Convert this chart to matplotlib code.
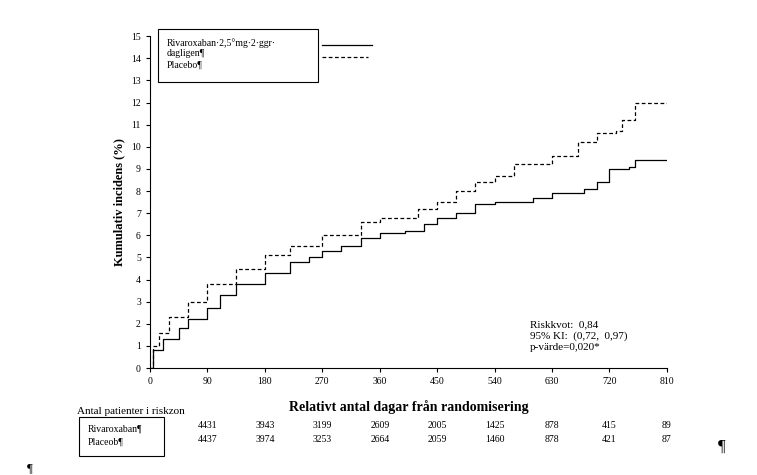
import matplotlib.pyplot as plt
from matplotlib.patches import Rectangle

plt.rcParams['font.family'] = ['Liberation Serif', 'DejaVu Serif']

riva_days = [0, 5, 20, 45, 60, 90, 110, 135, 180, 220, 250, 270, 300, 330, 360, 400, 430, 450, 480, 510,
             540, 600, 630, 680, 700, 720, 750, 760, 810]
riva_inc = [0, 0.8, 1.3, 1.8, 2.2, 2.7, 3.3, 3.8, 4.3, 4.8, 5.0, 5.3, 5.5, 5.9, 6.1, 6.2, 6.5, 6.8, 7.0, 7.4,
            7.5, 7.7, 7.9, 8.1, 8.4, 9.0, 9.1, 9.4, 9.4]
plac_days = [0, 5, 15, 30, 60, 90, 135, 180, 220, 270, 330, 360, 420, 450, 480, 510, 540, 570, 630, 670,
             700, 730, 740, 760, 810]
plac_inc = [0, 1.0, 1.6, 2.3, 3.0, 3.8, 4.5, 5.1, 5.5, 6.0, 6.6, 6.8, 7.2, 7.5, 8.0, 8.4, 8.7, 9.2, 9.6, 10.2,
            10.6, 10.7, 11.2, 12.0, 12.0]

risk_days = [90, 180, 270, 360, 450, 540, 630, 720, 810]
risk_riva = [4431, 3943, 3199, 2609, 2005, 1425, 878, 415, 89]
risk_plac = [4437, 3974, 3253, 2664, 2059, 1460, 878, 421, 87]

fig = plt.figure(figsize=(7.57, 4.75), dpi=100)
ax = fig.add_axes([0.198, 0.225, 0.683, 0.699])
ax.plot(riva_days, riva_inc, color='black', lw=0.9, drawstyle='steps-post')
ax.plot(plac_days, plac_inc, color='black', lw=0.9, ls=(0, (3, 2)), drawstyle='steps-post')
ax.set_xlim(0, 810)
ax.set_ylim(0, 15)
ax.set_xticks(range(0, 811, 90))
ax.set_yticks(range(0, 16))
for s in ['top', 'right']:
    ax.spines[s].set_visible(False)
ax.tick_params(labelsize=7, length=3)
ax.set_ylabel('Kumulativ incidens (%)', fontsize=9, fontweight='bold')
ax.set_xlabel('Relativt antal dagar från randomisering', fontsize=10, fontweight='bold', labelpad=10)

ax.text(0.735, 0.145, 'Riskkvot:  0,84\n95% KI:  (0,72,  0,97)\np-värde=0,020*',
        transform=ax.transAxes, fontsize=8, va='top', ha='left', multialignment='left', linespacing=1.3)

# legend box
fig.patches.append(Rectangle((158 / 757, 1 - 82 / 475), 160 / 757, 53 / 475, transform=fig.transFigure,
                             fill=False, lw=0.8, edgecolor='black'))
fig.text(167 / 757, 1 - 38 / 475, 'Rivaroxaban·2,5°mg·2·ggr·\ndagligen¶\nPlacebo¶', fontsize=7,
         va='top', linespacing=1.25)
fig.add_artist(plt.Line2D([322 / 757, 372 / 757], [1 - 45 / 475] * 2, color='black', lw=0.9))
fig.add_artist(plt.Line2D([322 / 757, 368 / 757], [1 - 57 / 475] * 2, color='black', lw=0.9, ls=(0, (3, 2))))

# risk table
fig.text(77 / 757, 1 - 412 / 475, 'Antal patienter i riskzon', fontsize=8, va='center')
fig.patches.append(Rectangle((79 / 757, 1 - 456 / 475), 85 / 757, 39 / 475, transform=fig.transFigure,
                             fill=False, lw=0.8, edgecolor='black'))
fig.text(88 / 757, 1 - 429 / 475, 'Rivaroxaban¶', fontsize=7, va='center')
fig.text(88 / 757, 1 - 442 / 475, 'Placeob¶', fontsize=7, va='center')
for d, r, p in zip(risk_days, risk_riva, risk_plac):
    xf = (150 + d / 810 * 517) / 757
    fig.text(xf, 1 - 425 / 475, str(r), fontsize=7, ha='center', va='center')
    fig.text(xf, 1 - 440 / 475, str(p), fontsize=7, ha='center', va='center')
fig.text(718 / 757, 1 - 447 / 475, '¶', fontsize=12, va='center')
fig.text(27 / 757, 1 - 468 / 475, '¶', fontsize=9, va='center')

fig.savefig('out.png', dpi=100)
